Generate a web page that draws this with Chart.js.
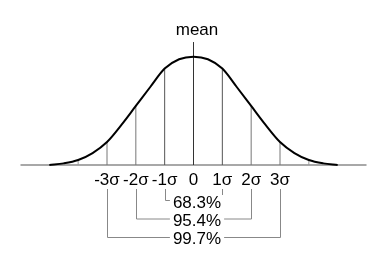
<!DOCTYPE html>
<html>
<head>
<meta charset="utf-8">
<script src="https://cdn.jsdelivr.net/npm/chart.js@4.4.0/dist/chart.umd.min.js"></script>
<style>
  body { margin: 0; background: #fff; }
  #wrap { width: 381px; height: 269px; }
</style>
</head>
<body>
<div id="wrap"><canvas id="myChart"></canvas></div>
<script>
// curve (x in sigma, height relative to peak = 100)
const curveX = [-5, -4.5, -4, -3.5, -3, -2.5, -2, -1.5, -1, -0.5, 0, 0.5, 1, 1.5, 2, 2.5, 3, 3.5, 4, 4.5, 5];
const curveY = [0, 1.5, 4.6, 11, 21.2, 37, 54.5, 72, 89, 97.6, 100, 97.6, 89, 72, 54.5, 37, 21.2, 11, 4.6, 1.5, 0];

// vertical lines under the curve
const markX = [-4, -3, -2, -1, 1, 2, 3, 4];
const markY = [4.6, 21.2, 54.5, 89, 89, 54.5, 21.2, 4.6];
const meanTop = 113.5;

// labels under the axis
const tickValues = [-3, -2, -1, 0, 1, 2, 3];
const tickLabels = ['-3σ', '-2σ', '-1σ', '0', '1σ', '2σ', '3σ'];

// the three ranges
const rangeSigma = [1, 2, 3];
const rangeLabels = ['68.3%', '95.4%', '99.7%'];

const markColor = x => Math.abs(x) === 1 ? '#555' : (Math.abs(x) === 4 ? '#999' : '#777');

const datasets = [
  {
    data: curveX.map((x, i) => ({ x: x, y: curveY[i] })),
    borderColor: '#000',
    borderWidth: 2,
    cubicInterpolationMode: 'monotone',
    pointRadius: 0,
    order: 0
  },
  {
    data: [{ x: -6, y: 0 }, { x: 6, y: 0 }],
    borderColor: '#a8a8a8',
    borderWidth: 2,
    pointRadius: 0,
    order: 3
  },
  {
    data: [{ x: 0, y: 0 }, { x: 0, y: meanTop }],
    borderColor: '#333',
    borderWidth: 1,
    pointRadius: 0,
    order: 2
  }
];
markX.forEach((x, i) => {
  datasets.push({
    data: [{ x: x, y: 0 }, { x: x, y: markY[i] }],
    borderColor: markColor(x),
    borderWidth: 1,
    pointRadius: 0,
    order: 2
  });
});

const FONT = '17px "Liberation Sans", Arial, sans-serif';

const labelsPlugin = {
  id: 'labels',
  afterDatasetsDraw(chart) {
    const ctx = chart.ctx;
    const xs = chart.scales.x;
    const x0 = xs.getPixelForValue(0);
    ctx.save();
    ctx.font = FONT;
    ctx.fillStyle = '#000';
    ctx.textAlign = 'center';
    ctx.textBaseline = 'middle';

    ctx.fillText('mean', x0 + 3.5, 30);

    tickValues.forEach((v, i) => {
      ctx.fillText(tickLabels[i], xs.getPixelForValue(v), 180);
    });

    // brackets
    const lineY = [200, 218.5, 237];
    const textY = [203, 221, 239.5];
    ctx.strokeStyle = '#888';
    ctx.lineWidth = 1;
    rangeSigma.forEach((s, i) => {
      const l = Math.round(xs.getPixelForValue(-s)) + 0.5;
      const r = Math.round(xs.getPixelForValue(s)) + 0.5;
      const y = lineY[i] + 0.5;
      ctx.beginPath();
      ctx.moveTo(l, 189);
      ctx.lineTo(l, y);
      ctx.lineTo(r, y);
      ctx.lineTo(r, 189);
      ctx.stroke();
    });
    rangeSigma.forEach((s, i) => {
      const w = ctx.measureText(rangeLabels[i]).width;
      ctx.fillStyle = '#fff';
      ctx.fillRect(x0 + 3.5 - w / 2 - 3, textY[i] - 8, w + 6, 16);
      ctx.fillStyle = '#000';
      ctx.fillText(rangeLabels[i], x0 + 3.5, textY[i]);
    });
    ctx.restore();
  }
};

const ctx = document.getElementById('myChart');
new Chart(ctx, {
  type: 'line',
  data: { datasets: datasets },
  options: {
    responsive: true,
    maintainAspectRatio: false,
    animation: false,
    clip: false,
    layout: { padding: { left: 20.5, right: 14.5, top: 35, bottom: 104 } },
    plugins: { legend: { display: false }, tooltip: { enabled: false } },
    scales: {
      x: { type: 'linear', min: -6, max: 6, display: false },
      y: { min: 0, max: 120, display: false }
    }
  },
  plugins: [labelsPlugin]
});
</script>
</body>
</html>
